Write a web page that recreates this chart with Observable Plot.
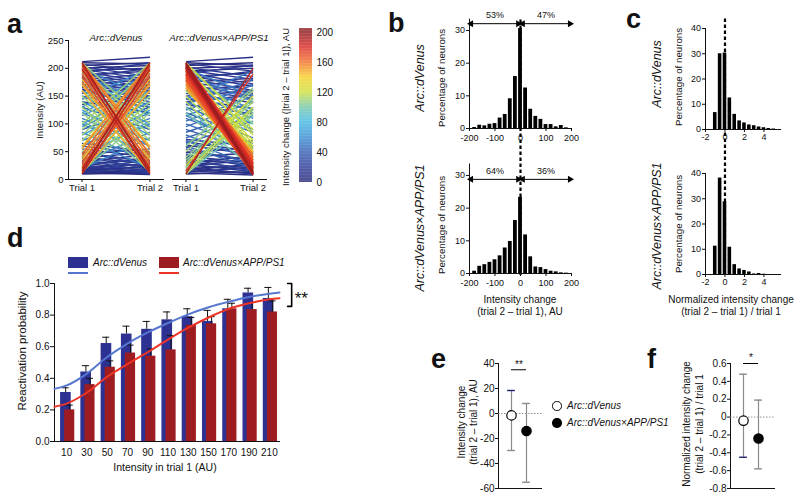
<!DOCTYPE html>
<html><head><meta charset="utf-8">
<script src="https://cdn.jsdelivr.net/npm/d3@7"></script>
<script src="https://cdn.jsdelivr.net/npm/@observablehq/plot@0.6"></script>
<style>
body{margin:0;background:#fff;}
#fig{position:relative;width:800px;height:499px;overflow:hidden;background:#fff;font-family:"Liberation Sans",Arial,sans-serif;color:#111;}
.t{position:absolute;white-space:nowrap;line-height:1;}
</style></head><body><div id="fig"></div>
<script>
// ---------- DATA ----------
// panel a: per-neuron intensities (trial 1 -> trial 2)
const dvTrial1 = [10,11,12,13,14,15,16,17,18,19,20,21,22,24,25,26,28,30,32,34,36,38,40,42,45,48,50,55,60,65,
210,212,207,205,203,200,198,196,194,192,190,188,186,184,182,180,178,175,172,170,168,165,162,160,158,155,150,145,140,135,
130,90,120,70,110,60,100,45,140,80,150,95,160,100,170,115,180,120,190,130,200,145,85,30,75,20,105,40,125,60,
150,40,170,60,190,80,200,90,130,20,120,15,140,30,180,70,160,50,210,100,
210,15,205,20,200,30,195,40,190,25,185,12,180,35,175,18,170,22,208,45,160,12,210,55,198,10,203,60];
const dvTrial2 = [12,18,9,25,11,30,14,22,10,35,16,28,12,40,20,10,36,15,45,24,12,50,28,18,55,32,25,40,45,50,
208,220,195,210,185,205,180,200,175,210,170,195,165,200,160,190,155,185,150,180,145,175,140,170,135,165,130,160,120,150,
90,130,70,120,60,110,45,100,80,140,95,150,100,160,115,170,120,180,130,190,145,200,30,85,20,75,40,105,60,125,
40,150,60,170,80,190,90,200,20,130,15,120,30,140,70,180,50,160,100,210,
15,210,20,205,30,200,40,195,25,190,12,185,35,180,18,175,22,170,45,208,12,160,55,210,10,198,60,203];
const appTrial1 = [10,12,13,15,16,18,20,22,24,26,28,30,32,35,38,40,42,45,48,50,55,58,62,68,72,
210,212,208,205,202,200,197,195,192,190,187,185,182,180,177,175,172,168,165,160,155,150,145,140,135,
130,120,110,100,90,140,150,160,170,180,190,200,85,75,65,95,105,115,125,135,80,70,60,115,145,
200,190,180,170,210,160,150,205,195,185,175,140,130,120,165,
10,15,20,30,40,12,25,50,35,60,10,22,
210,208,205,205,203,200,200,198,196,195,193,190,190,188,186,185,183,180,178,175,210,207,202,199,194,172,168,165,209,206,201,197,189,184,179,
10,15];
const appTrial2 = [14,8,22,11,28,12,25,10,35,18,14,42,20,28,15,48,30,22,58,35,30,70,45,50,60,
205,220,195,210,185,204,180,200,172,206,168,192,160,195,155,182,150,178,145,170,138,160,128,152,118,
85,75,65,55,50,90,100,110,120,125,140,150,125,115,105,140,150,160,170,180,35,25,20,60,195,
80,70,60,50,90,45,35,100,85,65,55,25,30,20,60,
120,125,130,140,145,130,150,160,140,165,105,115,
12,15,10,20,14,12,25,18,10,30,22,15,35,28,20,40,12,30,18,25,30,40,35,45,50,12,20,15,22,28,8,38,10,33,8,
200,190];
const trialLabels = ["Trial 1", "Trial 2"];
const aTicks = [0, 50, 100, 150, 200, 250];
const cbTicks = [0, 40, 80, 120, 160, 200];

// panel b: histogram of intensity change (bin centers, % of neurons)
const bBins = [-180,-160,-140,-120,-100,-80,-60,-40,-20,0,20,40,60,80,100,120,140,160,180];
const bDvVals  = [0.3,1.0,0.8,1.3,1.5,3.2,4.3,9.1,15.9,30.6,12.4,5.9,3.7,2.8,1.2,1.2,0.5,0.9,0.2];
const bAppVals = [0.7,2.2,2.7,3.4,4.2,5.4,7.8,9.8,16.2,23.3,11.8,5.1,2.0,1.8,1.2,0.7,0.5,0.2,0.1];
const bDvPct  = ["53%", "47%"];
const bAppPct = ["64%", "36%"];

// panel c: histogram of normalized change
const cBins = [-1,-0.5,0,0.5,1,1.5,2,2.5,3,3.5,4,4.5,5];
const cDvVals  = [6.7,30,30.3,12.5,6,3.4,2.6,1.8,1.5,1.0,0.7,0.4,0.2];
const cAppVals = [11.2,38.2,28.8,10.8,3.9,2.2,1.6,1.0,0.2,0.4,0.1,0,0];

// panel d: reactivation probability
const intensities = [10,30,50,70,90,110,130,150,170,190,210];
const dvMean = [0.31,0.44,0.62,0.68,0.71,0.77,0.79,0.76,0.84,0.94,0.905];
const dvUpper = [0.34,0.48,0.66,0.73,0.76,0.82,0.84,0.83,0.90,0.97,0.975];
const appMean = [0.20,0.36,0.47,0.56,0.54,0.58,0.735,0.745,0.84,0.835,0.82];
const appUpper = [0.23,0.40,0.51,0.61,0.585,0.67,0.785,0.79,0.875,0.88,0.89];
const fitX = [-2,10,30,50,70,90,110,130,150,170,190,210,220];
const dvFit = [0.333,0.355,0.43,0.535,0.62,0.69,0.75,0.805,0.85,0.885,0.915,0.935,0.943];
const appFit = [0.22,0.24,0.31,0.41,0.49,0.565,0.645,0.72,0.785,0.84,0.875,0.90,0.907];

// panels e, f: mean and range
const eMean = [-1.5, -14], eHi = [18.4, 8], eLo = [-29.6, -55];
const fMean = [-0.04, -0.24], fHi = [0.48, 0.19], fLo = [-0.45, -0.58];
const eTicks = [-60,-40,-20,0,20,40];
const fTicks = [-0.8,-0.6,-0.4,-0.2,0,0.2,0.4,0.6];

// ---------- HELPERS ----------
const fig = document.getElementById("fig");
const FONT = "'Liberation Sans', Arial, sans-serif";
function place(f, fs, opts) {
  const svg = Plot.plot(Object.assign({
    width: 800, height: 499,
    marginLeft: f[0], marginRight: 800 - f[1], marginTop: f[2], marginBottom: 499 - f[3],
    style: `background:transparent;font-family:${FONT};font-size:${fs}px;overflow:visible;color:#111;`
  }, opts));
  svg.style.position = "absolute"; svg.style.left = "0px"; svg.style.top = "0px";
  fig.appendChild(svg);
  return svg;
}
function txt(s, x, y, o = {}) {
  const d = document.createElement("div");
  d.className = "t"; d.textContent = s;
  d.style.left = x + "px"; d.style.top = y + "px";
  d.style.fontSize = (o.size || 10) + "px";
  if (o.italic) d.style.fontStyle = "italic";
  if (o.bold) d.style.fontWeight = "bold";
  const a = o.anchor || "middle";
  const tx = a === "middle" ? "-50%" : a === "end" ? "-100%" : "0";
  d.style.transform = o.rot ? "translate(-50%,-50%) rotate(-90deg)" : `translate(${tx},-50%)`;
  fig.appendChild(d);
}
function box(x, y, w, h, css) {
  const d = document.createElement("div");
  d.style.position = "absolute"; d.style.left = x + "px"; d.style.top = y + "px";
  d.style.width = w + "px"; d.style.height = h + "px";
  Object.assign(d.style, css);
  fig.appendChild(d);
}
const intFmt = d => String(d);
const colorOpts = {
  type: "linear", clamp: true,
  domain: [0, 20, 40, 60, 80, 100, 120, 140, 160, 180, 200],
  range: ["#27287a","#2d3c97","#3560b2","#3c8fd2","#43b9e6","#77c7a8","#cfe03c","#f7cf27","#f2702a","#dc2a27","#8d1a1d"]
};

// ---------- PANEL a ----------
function pairs(t1, t2) {
  const n = Math.min(t1.length, t2.length);
  return d3.range(n).map(i => ({t1: t1[i], t2: t2[i], d: Math.abs(t2[i] - t1[i])})).sort((a, b) => a.d - b.d);
}
const aLinks = rows => Plot.link(rows, {x1: () => 0, x2: () => 1, y1: "t1", y2: "t2", stroke: "d", strokeWidth: 1.4});
place([68, 163, 40, 179], 9.5, {
  x: {domain: [-0.2, 1.2], ticks: [0, 1], tickFormat: d => trialLabels[d], tickSize: 3, tickPadding: 2, line: true, label: null},
  y: {domain: [0, 250], ticks: aTicks, tickSize: 3, tickPadding: 2, line: true, label: null},
  color: colorOpts,
  marks: [aLinks(pairs(dvTrial1, dvTrial2))]
});
place([172, 266, 40, 179], 9.5, {
  x: {domain: [-0.2, 1.2], ticks: [0, 1], tickFormat: d => trialLabels[d], tickSize: 3, tickPadding: 2, line: true, label: null},
  y: {domain: [0, 250], axis: null},
  color: colorOpts,
  marks: [aLinks(pairs(appTrial1, appTrial2))]
});
// colour bar
const cbSteps = d3.range(0, 205, 1).map(v => ({v}));
place([299, 312, 28.25, 182], 10, {
  x: {domain: [0, 1], axis: null},
  y: {domain: [0, 205], ticks: cbTicks, tickSize: 0, tickPadding: 4, axis: "right", label: null},
  color: colorOpts,
  marks: [Plot.rect(cbSteps, {x1: 0, x2: 1, y1: "v", y2: d => d.v + 1, fill: "v"})]
});
txt("a", 7, 24, {size: 27, bold: true, anchor: "start"});
txt("Intensity (AU)", 40, 110, {size: 9.5, rot: true});
txt("Arc::dVenus", 116, 38, {size: 9.8, italic: true});
txt("Arc::dVenus×APP/PS1", 219, 38, {size: 9.8, italic: true});
txt("Intensity change (|trial 2 – trial 1|), AU", 286, 107, {size: 9.5, rot: true});

// ---------- PANEL b ----------
function histMarks(bins, vals, w) {
  const rows = bins.map((c, i) => ({x1: c - w / 2, x2: c + w / 2, v: vals[i]}));
  return Plot.rectY(rows, {x1: "x1", x2: "x2", y: "v", fill: "#000", insetLeft: 0.65, insetRight: 0.65});
}
function arrowMarks(pct, yArrow, yText) {
  const segs = [{a: -200, b: -3}, {a: 3, b: 200}];
  const heads = [{x: -194, r: -90}, {x: -9, r: 90}, {x: 9, r: -90}, {x: 194, r: 90}];
  return [
    Plot.link(segs, {x1: "a", x2: "b", y1: () => yArrow, y2: () => yArrow, stroke: "#000", strokeWidth: 1}),
    Plot.dot(heads, {x: "x", y: () => yArrow, symbol: "triangle", r: 2.6, fill: "#000", stroke: "none", rotate: "r"}),
    Plot.text(pct, {x: (d, i) => (i === 0 ? -100 : 100), y: () => yText, text: d => d, fontSize: 9})
  ];
}
const bX = {domain: [-200, 200], ticks: [-200, -100, 0, 100, 200], tickFormat: intFmt, tickSize: 3, tickPadding: 3, line: true, label: null};
const bY = {domain: [0, 33.5], ticks: [0, 10, 20, 30], tickSize: 3, tickPadding: 1.5, line: true, label: null};
place([469, 571, 18.6, 128], 9, {
  x: bX, y: bY,
  marks: [
    histMarks(bBins, bDvVals, 20),
    Plot.ruleX([0], {y1: -45, y2: 33.6, stroke: "#000", strokeWidth: 2.2, strokeDasharray: "3.5,2.5"}),
    ...arrowMarks(bDvPct, 32.1, 34.6)
  ]
});
place([469, 571, 163.5, 273], 9, {
  x: bX, y: bY,
  marks: [histMarks(bBins, bAppVals, 20), ...arrowMarks(bAppPct, 28.8, 31.2)]
});
txt("b", 388, 23, {size: 27, bold: true, anchor: "start"});
txt("Arc::dVenus", 420, 78, {size: 12.5, italic: true, rot: true});
txt("Arc::dVenus×APP/PS1", 420, 228, {size: 12.5, italic: true, rot: true});
txt("Percentage of neurons", 442, 78, {size: 9.7, rot: true});
txt("Percentage of neurons", 442, 225, {size: 9.7, rot: true});
txt("Intensity change", 520, 300, {size: 10});
txt("(trial 2 – trial 1), AU", 520, 312, {size: 10});

// ---------- PANEL c ----------
const cX = {domain: [-2, 5.7], ticks: [-2, 0, 2, 4], tickFormat: intFmt, tickSize: 3, tickPadding: 1.5, line: true, label: null};
const cY = {domain: [0, 40], ticks: [0, 10, 20, 30, 40], tickSize: 3, tickPadding: 1.5, line: true, label: null};
place([705, 780, 28, 129], 9, {
  x: cX, y: cY,
  marks: [
    histMarks(cBins, cDvVals, 0.5),
    Plot.ruleX([0], {y1: -57.4, y2: 44, stroke: "#000", strokeWidth: 2.2, strokeDasharray: "3.5,2.5"})
  ]
});
place([705, 780, 173, 274], 9, {
  x: cX, y: cY,
  marks: [histMarks(cBins, cAppVals, 0.5)]
});
txt("c", 626, 19, {size: 27, bold: true, anchor: "start"});
txt("Arc::dVenus", 657, 74, {size: 12.5, italic: true, rot: true});
txt("Arc::dVenus×APP/PS1", 657, 226, {size: 12.5, italic: true, rot: true});
txt("Percentage of neurons", 679, 77, {size: 9.7, rot: true});
txt("Percentage of neurons", 679, 224, {size: 9.7, rot: true});
txt("Normalized intensity change", 731, 300, {size: 10});
txt("(trial 2 – trial 1) / trial 1", 731, 312, {size: 10});

// ---------- PANEL d ----------
const dvRows = intensities.map((v, i) => ({v, m: dvMean[i], u: dvUpper[i]}));
const appRows = intensities.map((v, i) => ({v, m: appMean[i], u: appUpper[i]}));
const BLUE = "#2c3192", RED = "#9c1c21";
place([54, 279, 283, 441], 10, {
  x: {domain: [-2, 220], ticks: intensities, tickFormat: intFmt, tickSize: 0, tickPadding: 7, line: true, label: null},
  y: {domain: [0, 1], ticks: [0, 0.2, 0.4, 0.6, 0.8, 1], tickFormat: d => d.toFixed(1), tickSize: 4, tickPadding: 1, line: true, label: null},
  marks: [
    Plot.rectY(dvRows, {x1: d => d.v - 6, x2: d => d.v + 4.5, y: "m", fill: BLUE}),
    Plot.ruleX(dvRows, {x: d => d.v - 1, y1: "m", y2: "u", stroke: "#111", strokeWidth: 1}),
    Plot.ruleY(dvRows, {y: "u", x1: d => d.v - 4.5, x2: d => d.v + 2.5, stroke: "#111", strokeWidth: 1}),
    Plot.rectY(appRows, {x1: d => d.v - 2, x2: d => d.v + 8, y: "m", fill: RED}),
    Plot.ruleX(appRows, {x: d => d.v + 3, y1: "m", y2: "u", stroke: "#111", strokeWidth: 1}),
    Plot.ruleY(appRows, {y: "u", x1: d => d.v - 0.5, x2: d => d.v + 6.5, stroke: "#111", strokeWidth: 1}),
    Plot.line(fitX.map((x, i) => ({x, y: dvFit[i]})), {x: "x", y: "y", stroke: "#5677cf", strokeWidth: 2, curve: "monotone-x"}),
    Plot.line(fitX.map((x, i) => ({x, y: appFit[i]})), {x: "x", y: "y", stroke: "#ee3426", strokeWidth: 2, curve: "monotone-x"}),
    Plot.line([{x: 228, y: 1}, {x: 232, y: 1}, {x: 232, y: 0.855}, {x: 228, y: 0.855}], {x: "x", y: "y", stroke: "#000", strokeWidth: 1.6}),
    Plot.text(["**"], {x: () => 235, y: () => 0.905, text: d => d, fontSize: 17, textAnchor: "start"})
  ]
});
txt("d", 7, 238, {size: 27, bold: true, anchor: "start"});
box(68, 257, 20, 11, {background: BLUE});
box(68, 272, 20, 2, {background: "#5677cf"});
box(159, 257, 20, 11, {background: RED});
box(159, 272, 20, 2, {background: "#ee3426"});
txt("Arc::dVenus", 93, 263, {size: 10, italic: true, anchor: "start"});
txt("Arc::dVenus×APP/PS1", 183, 263, {size: 10, italic: true, anchor: "start"});
txt("Reactivation probability", 23, 351, {size: 11.5, rot: true});
txt("Intensity in trial 1 (AU)", 165, 467, {size: 10.5});

// ---------- PANELS e, f ----------
function meanRangeMarks(mean, hi, lo, navyEnd, capW) {
  const rows = mean.map((m, i) => ({i, m, hi: hi[i], lo: lo[i]}));
  const caps = [];
  rows.forEach(r => {
    caps.push({i: r.i, y: r.hi, c: (r.i === 0 && navyEnd === "hi") ? "#1d2266" : "#8a8a8a"});
    caps.push({i: r.i, y: r.lo, c: (r.i === 0 && navyEnd === "lo") ? "#1d2266" : "#8a8a8a"});
  });
  return [
    Plot.ruleY([0], {stroke: "#777", strokeWidth: 0.8, strokeDasharray: "1.5,1.5"}),
    Plot.ruleX(rows, {x: "i", y1: "lo", y2: "hi", stroke: "#8a8a8a", strokeWidth: 1.2}),
    Plot.ruleY(caps, {y: "y", x1: d => d.i - capW, x2: d => d.i + capW, stroke: "c", strokeWidth: 1.4}),
    Plot.dot(rows, {x: "i", y: "m", r: 4.7, fill: d => (d.i === 0 ? "#fff" : "#000"), stroke: "#000", strokeWidth: 1.2})
  ];
}
place([498, 542, 363, 488], 10, {
  x: {domain: [-0.867, 2.067], axis: null},
  y: {domain: [-60, 40], ticks: eTicks, tickFormat: intFmt, tickSize: 3, tickPadding: 1, line: true, label: null},
  color: {type: "identity"},
  marks: [
    Plot.ruleY([-60], {stroke: "#111"}),
    ...meanRangeMarks(eMean, eHi, eLo, "hi", 0.26),
    Plot.ruleY([35], {x1: 0, x2: 1, stroke: "#000", strokeWidth: 1}),
    Plot.text(["**"], {x: () => 0.5, y: () => 38.6, text: d => d, fontSize: 10})
  ]
});
place([730, 775, 363, 488], 10, {
  x: {domain: [-0.867, 2.133], axis: null},
  y: {domain: [-0.8, 0.6], ticks: fTicks, tickFormat: d => (Math.abs(d) < 1e-9 ? "0" : d.toFixed(1)), tickSize: 3, tickPadding: 1, line: true, label: null},
  color: {type: "identity"},
  marks: [
    Plot.ruleY([-0.8], {stroke: "#111"}),
    ...meanRangeMarks(fMean, fHi, fLo, "lo", 0.26),
    Plot.ruleY([0.6], {x1: 0, x2: 1, stroke: "#000", strokeWidth: 1}),
    Plot.text(["*"], {x: () => 0.5, y: () => 0.665, text: d => d, fontSize: 10})
  ]
});
txt("e", 431, 359, {size: 27, bold: true, anchor: "start"});
txt("f", 647, 359, {size: 27, bold: true, anchor: "start"});
txt("Intensity change", 462, 422, {size: 10, rot: true});
txt("(trial 2 – trial 1), AU", 474, 422, {size: 10, rot: true});
txt("Normalized intensity change", 687, 424, {size: 10, rot: true});
txt("(trial 2 – trial 1) / trial 1", 700, 424, {size: 10, rot: true});
box(552.3, 401.3, 9.4, 9.4, {border: "1.2px solid #000", borderRadius: "50%", background: "#fff", boxSizing: "border-box"});
box(552.3, 418.3, 9.4, 9.4, {borderRadius: "50%", background: "#000"});
txt("Arc::dVenus", 567, 406, {size: 10, italic: true, anchor: "start"});
txt("Arc::dVenus×APP/PS1", 567, 423, {size: 10, italic: true, anchor: "start"});
</script></body></html>
